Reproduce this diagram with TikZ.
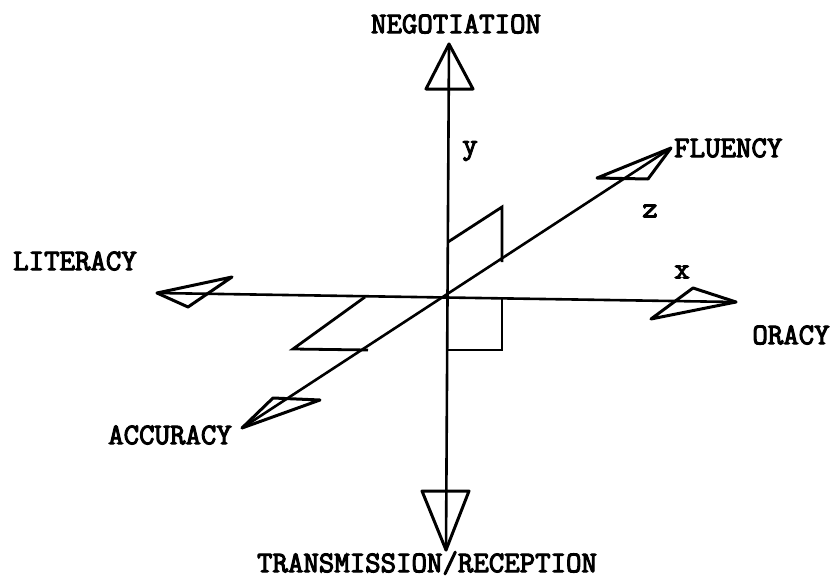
\documentclass[tikz,border=0pt]{standalone}
\usepackage{fontspec}
\setmainfont{Latin Modern Mono}[FakeBold=3.5]
\begin{document}
\begin{tikzpicture}[x=1pt,y=-1pt,
  axis/.style={line width=2.6pt,line cap=round},
  tip/.style={line width=3pt,line join=round},
  plane/.style={line width=2.8pt,line join=miter},
  lab/.style={font=\fontsize{30}{30}\selectfont,inner sep=0pt}]
\useasboundingbox[fill=white] (0,0) rectangle (835,581);
% axis end points
\coordinate (T) at (449,44);
\coordinate (B) at (446,550);
\coordinate (L) at (157,293);
\coordinate (R) at (736,302);
\coordinate (A) at (242,428);
\coordinate (F) at (671,148);
% axes
\draw[axis] (T) -- (B);
\draw[axis] (L) -- (R);
\draw[axis] (A) -- (F);
% arrowheads
\draw[tip] (T) -- (426,89) -- (473,89) -- cycle;
\draw[tip] (B) -- (422,491) -- (469,491) -- cycle;
\draw[tip] (L) -- (232,277) -- (188,307) -- cycle;
\draw[tip] (R) -- (693,288) -- (651,319) -- cycle;
\draw[tip] (F) -- (597,178) -- (648,179) -- cycle;
\draw[tip] (A) -- (273,398) -- (320,400) -- cycle;
% planes near origin
\draw[plane] (448,242) -- (502,207) -- (502,262);
\draw[plane] (502,297) -- (502,350) -- (448,350);
\draw[plane] (365,297) -- (293,349) -- (368,350);
% labels
\node[lab] (neg) at (456,24) {NEGOTIATION};
\node[lab] (ylab) at (470,151) {y};
\node[lab,anchor=west] (flu) at (674,148) {FLUENCY};
\node[lab] (zlab) at (650,211) {z};
\node[lab] (lit) at (75,261) {LITERACY};
\node[lab] (xlab) at (682,272) {x};
\node[lab] (ora) at (791,335) {ORACY};
\node[lab] (acc) at (170,435) {ACCURACY};
\node[lab] (tr) at (427,563) {TRANSMISSION/RECEPTION};
\end{tikzpicture}
\end{document}
